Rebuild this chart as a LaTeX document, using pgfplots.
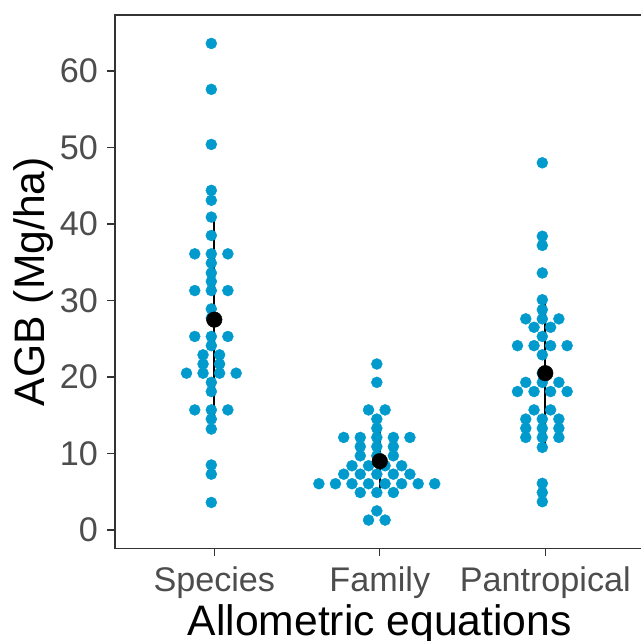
\documentclass[border=0pt]{standalone}
\usepackage{fontspec}
\setmainfont{Liberation Sans}
\usepackage{pgfplots}
\pgfplotsset{compat=1.18}

\definecolor{dotblue}{RGB}{0,154,205}
\definecolor{gray30}{RGB}{77,77,77}
\definecolor{gray20}{RGB}{51,51,51}

\begin{document}
\begin{tikzpicture}

% dots sit a hair left of the category centre, as in the original
\begin{axis}[
    at={(0,0)},
    anchor=south west,
    scale only axis,
    width=529.6bp,
    height=533.3bp,
    xmin=0.4, xmax=3.6,
    ymin=-2.39, ymax=67.32,
    xtick={1,2,3},
    xticklabels={Species,Family,Pantropical},
    ytick={0,10,20,30,40,50,60},
    xtick pos=bottom,
    ytick pos=left,
    tick align=outside,
    major tick length=8bp,
    every tick/.style={gray20, line width=1.1bp},
    axis line style={gray20, line width=1.3bp},
    tick label style={font=\fontsize{34.3}{40}\selectfont, color=gray30},
    /pgf/number format/assume math mode=true,
    xticklabel style={inner sep=0pt, yshift=-10bp},
    yticklabel style={inner sep=0pt, xshift=-9bp},
    xlabel={Allometric equations},
    ylabel={AGB (Mg/ha)},
    label style={font=\fontsize{42.8}{50}\selectfont, color=black},
    xlabel style={at={(axis description cs:0.5,-0.1626)}, anchor=base},
    ylabel style={at={(axis description cs:-0.1322,0.5)}, anchor=base},
    clip=false
]

% Species
\addplot[only marks, mark=*, mark size=5.5bp, color=dotblue] coordinates {
(0.982,63.6)(0.982,57.6)(0.982,50.4)(0.982,44.4)(0.982,43.1)(0.982,40.9)(0.982,38.5)
(0.882,36.1)(0.982,36.1)(1.082,36.1)
(0.982,34.9)(0.982,33.6)(0.982,32.5)
(0.882,31.3)(0.982,31.3)(1.082,31.3)
(0.982,28.9)(0.982,27.7)
(0.882,25.3)(0.982,25.3)(1.082,25.3)
(0.982,24.1)
(0.932,22.9)(1.032,22.9)
(0.932,21.7)(1.032,21.7)
(0.832,20.5)(0.932,20.5)(1.032,20.5)(1.132,20.5)
(0.982,19.3)(0.982,18.1)
(0.882,15.7)(0.982,15.7)(1.082,15.7)
(0.982,14.5)(0.982,13.2)(0.982,8.5)(0.982,7.3)(0.982,3.6)
};

% Family
\addplot[only marks, mark=*, mark size=5.5bp, color=dotblue] coordinates {
(1.982,21.7)(1.982,19.3)
(1.932,15.7)(2.032,15.7)
(1.982,14.5)(1.982,13.3)
(1.782,12.1)(1.882,12.1)(1.982,12.1)(2.082,12.1)(2.182,12.1)
(1.882,10.9)(1.982,10.9)(2.082,10.9)
(1.882,9.7)(1.982,9.7)(2.082,9.7)
(1.832,8.4)(1.932,8.4)(2.032,8.4)(2.132,8.4)
(1.782,7.3)(1.882,7.3)(1.982,7.3)(2.082,7.3)(2.182,7.3)
(1.632,6.05)(1.732,6.05)(1.832,6.05)(1.932,6.05)(2.032,6.05)(2.132,6.05)(2.232,6.05)(2.332,6.05)
(1.882,4.9)(1.982,4.9)(2.082,4.9)
(1.982,2.5)
(1.932,1.3)(2.032,1.3)
};

% Pantropical
\addplot[only marks, mark=*, mark size=5.5bp, color=dotblue] coordinates {
(2.982,48.0)(2.982,38.4)(2.982,37.2)(2.982,33.6)(2.982,30.1)(2.982,28.8)
(2.882,27.6)(2.982,27.6)(3.082,27.6)
(2.932,26.5)(3.032,26.5)
(2.982,25.3)
(2.832,24.1)(2.932,24.1)(3.032,24.1)(3.132,24.1)
(2.982,22.9)(2.982,20.5)
(2.882,19.3)(2.982,19.3)(3.082,19.3)
(2.832,18.1)(2.932,18.1)(3.032,18.1)(3.132,18.1)
(2.932,15.7)(3.032,15.7)
(2.882,14.5)(2.982,14.5)(3.082,14.5)
(2.882,13.3)(2.982,13.3)(3.082,13.3)
(2.882,12.1)(2.982,12.1)(3.082,12.1)
(2.982,10.8)(2.982,6.1)(2.982,4.9)(2.982,3.7)
};

% mean +- sd
\addplot[black, line width=2bp] coordinates {(1,14.7) (1,40.4)};
\addplot[black, line width=2bp] coordinates {(2,4.9) (2,13.3)};
\addplot[black, line width=2bp] coordinates {(3,11.3) (3,29.7)};
\addplot[only marks, mark=*, mark size=7.8bp, color=black] coordinates {
(1,27.5) (2,9.0) (3,20.5)
};

\end{axis}

% crop to the original frame (right border falls outside it)
\pgfresetboundingbox
\path[use as bounding box] (-115bp,-92.7bp) rectangle (526bp,548.3bp);

\end{tikzpicture}
\end{document}
